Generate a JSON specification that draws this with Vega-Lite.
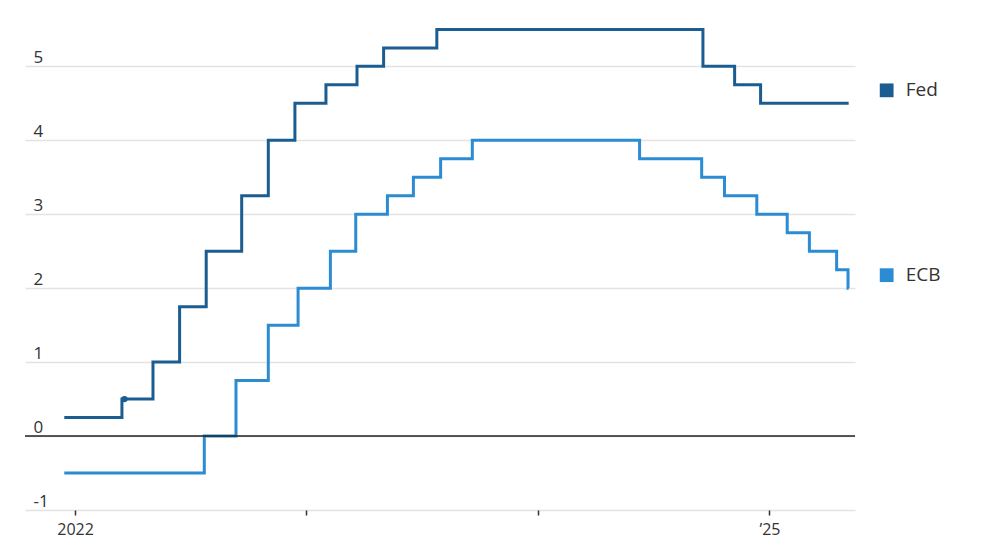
{
  "$schema": "https://vega.github.io/schema/vega-lite/v6.json",
  "width": 830,
  "height": 488,
  "autosize": "none",
  "padding": {"left": 25, "top": 22, "right": 145, "bottom": 35},
  "background": "white",
  "config": {"view": {"stroke": null}, "font": "Open Sans"},
  "datasets": {
    "rates": [
      {"series": "Fed", "date": "2021-12-15", "rate": 0.25},
      {"series": "Fed", "date": "2022-03-16", "rate": 0.5},
      {"series": "Fed", "date": "2022-05-04", "rate": 1.0},
      {"series": "Fed", "date": "2022-06-15", "rate": 1.75},
      {"series": "Fed", "date": "2022-07-27", "rate": 2.5},
      {"series": "Fed", "date": "2022-09-21", "rate": 3.25},
      {"series": "Fed", "date": "2022-11-02", "rate": 4.0},
      {"series": "Fed", "date": "2022-12-14", "rate": 4.5},
      {"series": "Fed", "date": "2023-02-01", "rate": 4.75},
      {"series": "Fed", "date": "2023-03-22", "rate": 5.0},
      {"series": "Fed", "date": "2023-05-03", "rate": 5.25},
      {"series": "Fed", "date": "2023-07-26", "rate": 5.5},
      {"series": "Fed", "date": "2024-09-18", "rate": 5.0},
      {"series": "Fed", "date": "2024-11-07", "rate": 4.75},
      {"series": "Fed", "date": "2024-12-18", "rate": 4.5},
      {"series": "Fed", "date": "2025-05-06", "rate": 4.5},
      {"series": "ECB", "date": "2021-12-15", "rate": -0.5},
      {"series": "ECB", "date": "2022-07-24", "rate": 0.0},
      {"series": "ECB", "date": "2022-09-12", "rate": 0.75},
      {"series": "ECB", "date": "2022-11-02", "rate": 1.5},
      {"series": "ECB", "date": "2022-12-19", "rate": 2.0},
      {"series": "ECB", "date": "2023-02-08", "rate": 2.5},
      {"series": "ECB", "date": "2023-03-20", "rate": 3.0},
      {"series": "ECB", "date": "2023-05-09", "rate": 3.25},
      {"series": "ECB", "date": "2023-06-19", "rate": 3.5},
      {"series": "ECB", "date": "2023-08-01", "rate": 3.75},
      {"series": "ECB", "date": "2023-09-20", "rate": 4.0},
      {"series": "ECB", "date": "2024-06-10", "rate": 3.75},
      {"series": "ECB", "date": "2024-09-16", "rate": 3.5},
      {"series": "ECB", "date": "2024-10-22", "rate": 3.25},
      {"series": "ECB", "date": "2024-12-12", "rate": 3.0},
      {"series": "ECB", "date": "2025-01-29", "rate": 2.75},
      {"series": "ECB", "date": "2025-03-05", "rate": 2.5},
      {"series": "ECB", "date": "2025-04-17", "rate": 2.25},
      {"series": "ECB", "date": "2025-05-05", "rate": 2.0},
      {"series": "ECB", "date": "2025-05-06", "rate": 2.0}
    ],
    "marker": [
      {"series": "Fed", "date": "2022-03-20", "rate": 0.5}
    ],
    "zero": [
      {"rate": 0}
    ]
  },
  "layer": [
    {
      "data": {"name": "rates"},
      "mark": {"type": "line", "interpolate": "step-after", "strokeWidth": 3},
      "encoding": {
        "x": {
          "field": "date",
          "type": "temporal",
          "scale": {"domain": [{"year": 2021, "month": 10, "date": 14}, {"year": 2025, "month": 5, "date": 16}]},
          "axis": {
            "title": null,
            "values": [{"year": 2022, "month": 1, "date": 1}, {"year": 2023, "month": 1, "date": 1}, {"year": 2024, "month": 1, "date": 1}, {"year": 2025, "month": 1, "date": 1}],
            "labelExpr": "year(datum.value) == 2022 ? '2022' : (year(datum.value) == 2025 ? '’25' : '')",
            "domain": false,
            "grid": false,
            "ticks": true,
            "tickSize": 5,
            "tickColor": "#333333",
            "tickWidth": 1.5,
            "labelFontSize": 16,
            "labelColor": "#333333",
            "labelPadding": 6,
            "labelFlush": false,
            "labelOverlap": false,
            "labelBound": false
          }
        },
        "y": {
          "field": "rate",
          "type": "quantitative",
          "scale": {"domain": [-1, 5.6], "nice": false, "zero": false},
          "axis": {
            "title": null,
            "values": [-1, 0, 1, 2, 3, 4, 5],
            "labelExpr": "'' + datum.value",
            "domain": false,
            "ticks": false,
            "tickSize": 0,
            "grid": true,
            "gridColor": "#e3e3e3",
            "gridWidth": 1.5,
            "labelAlign": "left",
            "labelBaseline": "alphabetic",
            "labelPadding": -8,
            "labelOffset": -4,
            "labelFontSize": 17,
            "labelColor": "#333333",
            "labelFlush": false,
            "labelOverlap": false,
            "labelBound": false
          }
        },
        "color": {
          "field": "series",
          "type": "nominal",
          "scale": {"domain": ["Fed", "ECB"], "range": ["#1c5d91", "#2b8cd3"]},
          "legend": null
        }
      }
    },
    {
      "data": {"name": "zero"},
      "mark": {"type": "rule", "color": "#222222", "strokeWidth": 1.5},
      "encoding": {
        "y": {"field": "rate", "type": "quantitative"}
      }
    },
    {
      "data": {"name": "marker"},
      "mark": {"type": "point", "filled": true, "size": 40, "opacity": 1},
      "encoding": {
        "x": {"field": "date", "type": "temporal"},
        "y": {"field": "rate", "type": "quantitative"},
        "color": {"field": "series", "type": "nominal", "legend": null}
      }
    },
    {
      "data": {"name": "rates"},
      "transform": [
        {"window": [{"op": "row_number", "as": "rn"}], "sort": [{"field": "date", "order": "descending"}], "groupby": ["series"]},
        {"filter": "datum.rn == 1"}
      ],
      "layer": [
        {
          "mark": {"type": "point", "shape": "square", "filled": true, "size": 190, "opacity": 1, "xOffset": 38, "yOffset": -13},
          "encoding": {
            "x": {"field": "date", "type": "temporal"},
            "y": {"field": "rate", "type": "quantitative"},
            "color": {"field": "series", "type": "nominal", "legend": null}
          }
        },
        {
          "mark": {"type": "text", "align": "left", "baseline": "middle", "dx": 57, "dy": -13, "fontSize": 19, "color": "#333333"},
          "encoding": {
            "x": {"field": "date", "type": "temporal"},
            "y": {"field": "rate", "type": "quantitative"},
            "text": {"field": "series"}
          }
        }
      ]
    }
  ]
}
